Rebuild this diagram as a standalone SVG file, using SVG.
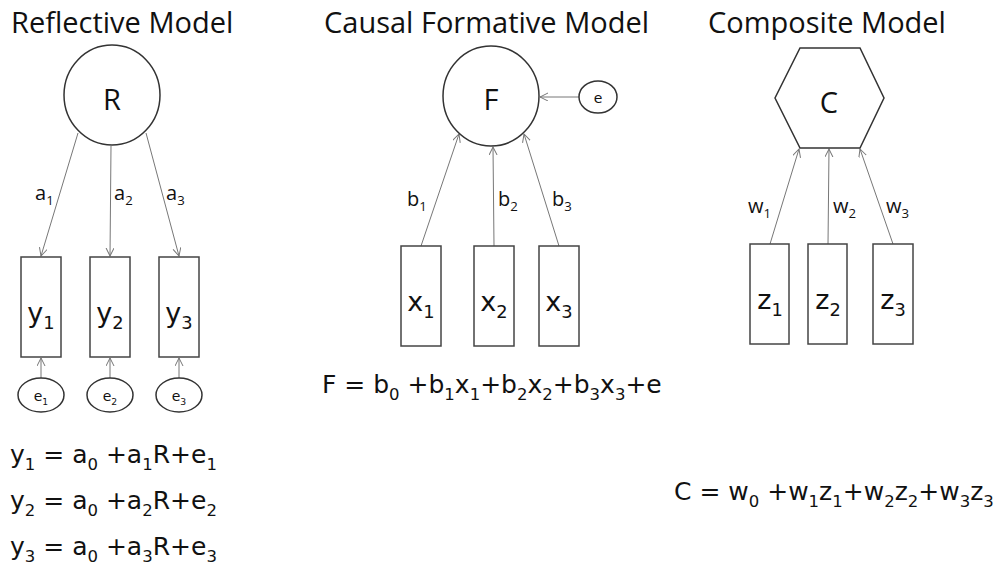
<svg xmlns="http://www.w3.org/2000/svg" width="1003" height="579" viewBox="0 0 1003 579">
<defs>
<marker id="arr" markerUnits="userSpaceOnUse" markerWidth="10" markerHeight="10" refX="8" refY="4" orient="auto">
<path d="M0,0 L8,4 L0,8" fill="none" stroke="#777" stroke-width="1"/>
</marker>
<style>
.title{font-family:"Open Sans",sans-serif;font-size:29px;fill:#111}
.node{fill:#fff;stroke:#333;stroke-width:1.5}
.box{fill:#fff;stroke:#444;stroke-width:1.5}
.big{font-family:"Open Sans",sans-serif;font-size:29px;fill:#111;text-anchor:middle}
.lab{font-family:"DejaVu Sans",sans-serif;font-size:27px;fill:#111;text-anchor:middle}
.eq{font-family:"DejaVu Sans",sans-serif;font-size:25px;fill:#111}
.co{font-family:"Open Sans",sans-serif;font-size:20px;fill:#111}
.el{font-family:"DejaVu Sans",sans-serif;font-size:14px;fill:#111;text-anchor:middle}
.s{font-size:0.66em}
.conn line{stroke:#777;stroke-width:1;marker-end:url(#arr)}
</style>
</defs>
<rect width="1003" height="579" fill="#fff"/>
<text class="title" x="11" y="33">Reflective Model</text>
<text class="title" x="324" y="33">Causal Formative Model</text>
<text class="title" x="708" y="33">Composite Model</text>

<g id="connectors" class="conn">
<line x1="78" y1="133" x2="41" y2="256"/>
<line x1="111" y1="146" x2="110" y2="256"/>
<line x1="146" y1="133" x2="179" y2="256"/>
<line x1="41" y1="378" x2="41" y2="358"/>
<line x1="110" y1="378" x2="110" y2="358"/>
<line x1="179" y1="378" x2="179" y2="358"/>
<line x1="421" y1="246" x2="459" y2="134"/>
<line x1="494" y1="246" x2="493" y2="147"/>
<line x1="559" y1="246" x2="524" y2="134"/>
<line x1="579" y1="97" x2="540" y2="97"/>
<line x1="770" y1="244" x2="799" y2="149"/>
<line x1="828" y1="244" x2="829" y2="149"/>
<line x1="893" y1="244" x2="860" y2="149"/>
</g>

<g id="conn-labels">
<text class="co" x="35" y="200">a<tspan class="s" dy="5">1</tspan></text>
<text class="co" x="114" y="200">a<tspan class="s" dy="5">2</tspan></text>
<text class="co" x="166" y="200">a<tspan class="s" dy="5">3</tspan></text>
<text class="co" x="407" y="206">b<tspan class="s" dy="5">1</tspan></text>
<text class="co" x="498" y="206">b<tspan class="s" dy="5">2</tspan></text>
<text class="co" x="552" y="206">b<tspan class="s" dy="5">3</tspan></text>
<text class="co" x="748" y="213">w<tspan class="s" dy="5">1</tspan></text>
<text class="co" x="833" y="213">w<tspan class="s" dy="5">2</tspan></text>
<text class="co" x="886" y="213">w<tspan class="s" dy="5">3</tspan></text>
</g>

<g id="R"><ellipse class="node" cx="112" cy="95" rx="48" ry="50"/><text class="big" x="112" y="110">R</text></g>
<g id="y1"><rect class="box" x="21" y="257" width="40" height="100"/><text class="lab" x="41" y="322">y<tspan class="s" dy="7">1</tspan></text></g>
<g id="y2"><rect class="box" x="90" y="257" width="40" height="100"/><text class="lab" x="110" y="322">y<tspan class="s" dy="7">2</tspan></text></g>
<g id="y3"><rect class="box" x="159" y="257" width="40" height="100"/><text class="lab" x="179" y="322">y<tspan class="s" dy="7">3</tspan></text></g>
<g id="e1"><ellipse class="node" cx="41" cy="395" rx="23" ry="17" stroke-width="1.2"/><text class="el" x="41" y="401">e<tspan class="s" dy="4">1</tspan></text></g>
<g id="e2"><ellipse class="node" cx="110" cy="395" rx="23" ry="17" stroke-width="1.2"/><text class="el" x="110" y="401">e<tspan class="s" dy="4">2</tspan></text></g>
<g id="e3"><ellipse class="node" cx="179" cy="395" rx="23" ry="17" stroke-width="1.2"/><text class="el" x="179" y="401">e<tspan class="s" dy="4">3</tspan></text></g>

<g id="F"><ellipse class="node" cx="491" cy="96" rx="48" ry="50"/><text class="big" x="491" y="110">F</text></g>
<g id="eF"><ellipse class="node" cx="598" cy="97" rx="19" ry="16" stroke-width="1.2"/><text class="el" x="598" y="103" font-size="16">e</text></g>
<g id="x1"><rect class="box" x="401" y="246" width="40" height="100"/><text class="lab" x="421" y="311">x<tspan class="s" dy="7">1</tspan></text></g>
<g id="x2"><rect class="box" x="474" y="246" width="40" height="100"/><text class="lab" x="494" y="311">x<tspan class="s" dy="7">2</tspan></text></g>
<g id="x3"><rect class="box" x="539" y="246" width="40" height="100"/><text class="lab" x="559" y="311">x<tspan class="s" dy="7">3</tspan></text></g>

<g id="C"><polygon class="node" points="800,48 860,48 884,98 860,148 800,148 775,98"/><text class="big" x="829" y="113">C</text></g>
<g id="z1"><rect class="box" x="750" y="244" width="39" height="100"/><text class="lab" x="770" y="309">z<tspan class="s" dy="7">1</tspan></text></g>
<g id="z2"><rect class="box" x="808" y="244" width="39" height="100"/><text class="lab" x="828" y="309">z<tspan class="s" dy="7">2</tspan></text></g>
<g id="z3"><rect class="box" x="873" y="244" width="40" height="100"/><text class="lab" x="893" y="309">z<tspan class="s" dy="7">3</tspan></text></g>

<g id="equations">
<text class="eq" x="10" y="463">y<tspan class="s" dy="7">1</tspan><tspan dy="-7"> = a</tspan><tspan class="s" dy="7">0</tspan><tspan dy="-7"> +a</tspan><tspan class="s" dy="7">1</tspan><tspan dy="-7">R+e</tspan><tspan class="s" dy="7">1</tspan></text>
<text class="eq" x="10" y="509">y<tspan class="s" dy="7">2</tspan><tspan dy="-7"> = a</tspan><tspan class="s" dy="7">0</tspan><tspan dy="-7"> +a</tspan><tspan class="s" dy="7">2</tspan><tspan dy="-7">R+e</tspan><tspan class="s" dy="7">2</tspan></text>
<text class="eq" x="10" y="555">y<tspan class="s" dy="7">3</tspan><tspan dy="-7"> = a</tspan><tspan class="s" dy="7">0</tspan><tspan dy="-7"> +a</tspan><tspan class="s" dy="7">3</tspan><tspan dy="-7">R+e</tspan><tspan class="s" dy="7">3</tspan></text>
<text class="eq" x="322" y="393">F = b<tspan class="s" dy="7">0</tspan><tspan dy="-7"> +b</tspan><tspan class="s" dy="7">1</tspan><tspan dy="-7">x</tspan><tspan class="s" dy="7">1</tspan><tspan dy="-7">+b</tspan><tspan class="s" dy="7">2</tspan><tspan dy="-7">x</tspan><tspan class="s" dy="7">2</tspan><tspan dy="-7">+b</tspan><tspan class="s" dy="7">3</tspan><tspan dy="-7">x</tspan><tspan class="s" dy="7">3</tspan><tspan dy="-7">+e</tspan></text>
<text class="eq" x="674" y="500">C = w<tspan class="s" dy="7">0</tspan><tspan dy="-7"> +w</tspan><tspan class="s" dy="7">1</tspan><tspan dy="-7">z</tspan><tspan class="s" dy="7">1</tspan><tspan dy="-7">+w</tspan><tspan class="s" dy="7">2</tspan><tspan dy="-7">z</tspan><tspan class="s" dy="7">2</tspan><tspan dy="-7">+w</tspan><tspan class="s" dy="7">3</tspan><tspan dy="-7">z</tspan><tspan class="s" dy="7">3</tspan></text>
</g>
</svg>
